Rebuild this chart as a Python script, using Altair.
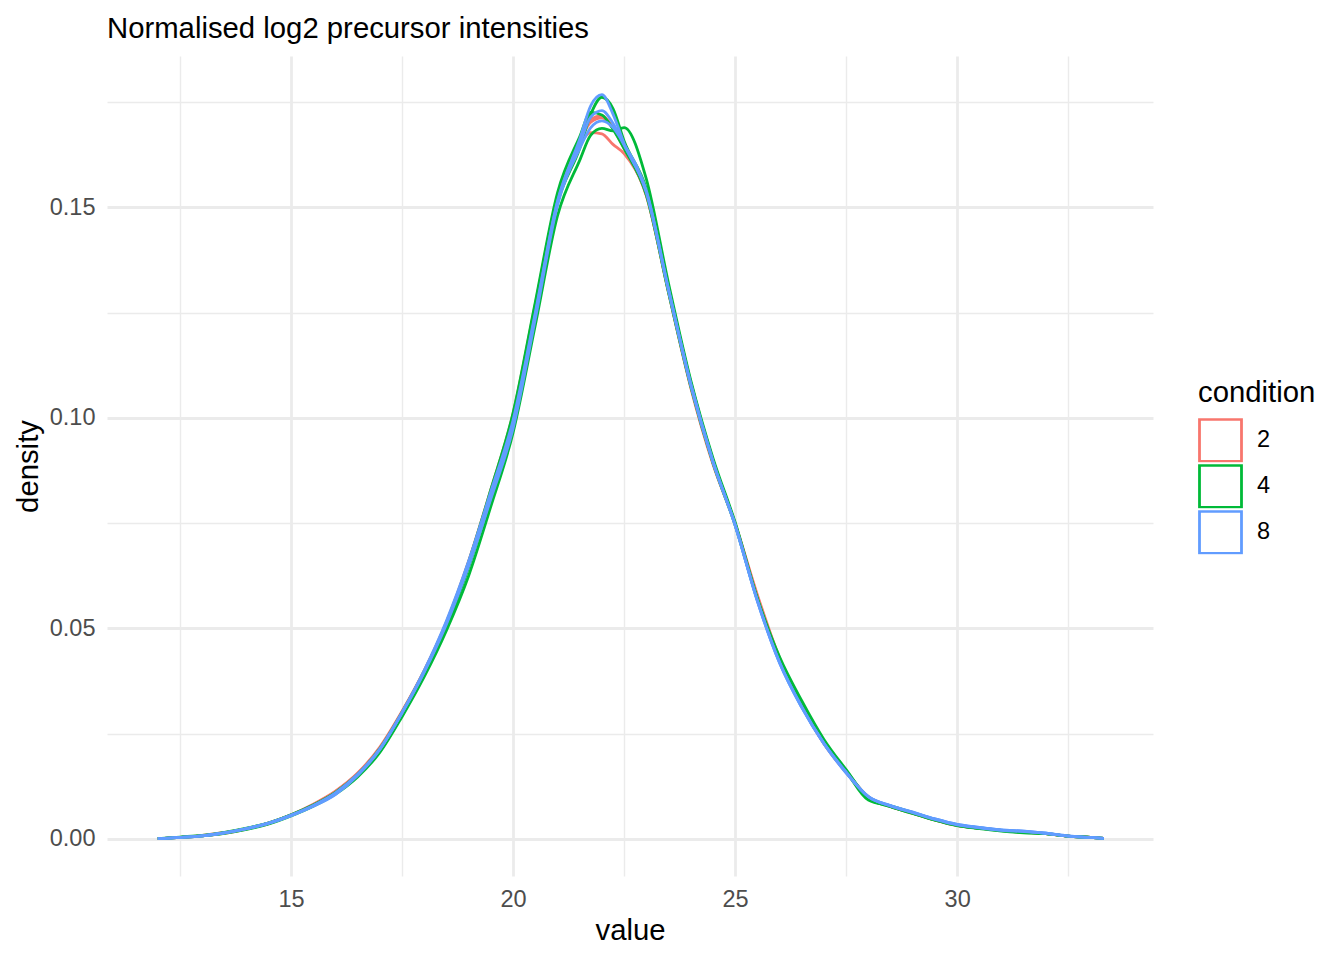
import altair as alt
import pandas as pd

# density curves (value grid shared by every sample)
value_grid = [12.0, 12.5, 13.0, 13.5, 14.0, 14.5, 15.0, 15.5, 16.0, 16.5,
              17.0, 17.5, 18.0, 18.5, 19.0, 19.5, 20.0, 20.5, 21.0, 21.5,
              21.75, 22.0, 22.25, 22.5, 23.0, 23.5, 24.0, 24.5, 25.0, 25.5,
              26.0, 26.5, 27.0, 27.5, 28.0, 28.5, 29.0, 29.5, 30.0, 30.5,
              31.0, 31.5, 32.0, 32.5, 33.0, 33.3]

cond2_a = [0.0000, 0.0003, 0.0008, 0.0015, 0.0024, 0.0038, 0.0057, 0.0082, 0.0113, 0.0156,
           0.0218, 0.0303, 0.0400, 0.0515, 0.0660, 0.0830, 0.1010, 0.1270, 0.1525, 0.1655,
           0.1703, 0.1713, 0.1688, 0.1640, 0.1530, 0.1300, 0.1078, 0.0898, 0.0750, 0.0580,
           0.0430, 0.0318, 0.0228, 0.0158, 0.0098, 0.0076, 0.0060, 0.0044, 0.0031, 0.0025,
           0.0020, 0.0016, 0.0012, 0.0006, 0.0003, 0.0001]
cond2_b = [0.0000, 0.0003, 0.0007, 0.0013, 0.0023, 0.0036, 0.0055, 0.0080, 0.0112, 0.0155,
           0.0215, 0.0300, 0.0398, 0.0512, 0.0655, 0.0825, 0.1005, 0.1262, 0.1520, 0.1650,
           0.1678, 0.1675, 0.1650, 0.1628, 0.1528, 0.1298, 0.1072, 0.0890, 0.0748, 0.0576,
           0.0428, 0.0316, 0.0226, 0.0157, 0.0099, 0.0077, 0.0061, 0.0045, 0.0032, 0.0025,
           0.0019, 0.0015, 0.0012, 0.0006, 0.0003, 0.0001]
cond2_c = [0.0000, 0.0003, 0.0007, 0.0014, 0.0024, 0.0037, 0.0056, 0.0081, 0.0111, 0.0154,
           0.0214, 0.0301, 0.0397, 0.0512, 0.0654, 0.0822, 0.0998, 0.1258, 0.1520, 0.1660,
           0.1710, 0.1718, 0.1690, 0.1645, 0.1535, 0.1302, 0.1076, 0.0894, 0.0747, 0.0572,
           0.0425, 0.0316, 0.0227, 0.0159, 0.0100, 0.0077, 0.0061, 0.0045, 0.0032, 0.0025,
           0.0020, 0.0016, 0.0012, 0.0006, 0.0003, 0.0001]

cond4_a = [0.0000, 0.0004, 0.0008, 0.0015, 0.0025, 0.0038, 0.0056, 0.0079, 0.0108, 0.0150,
           0.0208, 0.0295, 0.0392, 0.0505, 0.0645, 0.0812, 0.0985, 0.1245, 0.1510, 0.1640,
           0.1722, 0.1762, 0.1735, 0.1658, 0.1545, 0.1310, 0.1085, 0.0900, 0.0748, 0.0570,
           0.0425, 0.0322, 0.0232, 0.0162, 0.0098, 0.0077, 0.0061, 0.0045, 0.0032, 0.0025,
           0.0019, 0.0015, 0.0012, 0.0006, 0.0003, 0.0001]
cond4_b = [0.0000, 0.0003, 0.0007, 0.0014, 0.0024, 0.0037, 0.0057, 0.0080, 0.0110, 0.0153,
           0.0214, 0.0300, 0.0398, 0.0514, 0.0658, 0.0830, 0.1012, 0.1275, 0.1535, 0.1668,
           0.1726, 0.1720, 0.1686, 0.1640, 0.1530, 0.1298, 0.1075, 0.0893, 0.0745, 0.0568,
           0.0422, 0.0318, 0.0230, 0.0160, 0.0092, 0.0078, 0.0062, 0.0046, 0.0033, 0.0026,
           0.0020, 0.0016, 0.0012, 0.0006, 0.0003, 0.0001]
cond4_c = [0.0000, 0.0003, 0.0007, 0.0013, 0.0022, 0.0035, 0.0054, 0.0077, 0.0106, 0.0147,
           0.0205, 0.0290, 0.0385, 0.0495, 0.0625, 0.0790, 0.0965, 0.1220, 0.1480, 0.1612,
           0.1672, 0.1688, 0.1682, 0.1690, 0.1568, 0.1320, 0.1090, 0.0905, 0.0752, 0.0572,
           0.0432, 0.0328, 0.0236, 0.0164, 0.0096, 0.0076, 0.0060, 0.0044, 0.0031, 0.0024,
           0.0018, 0.0014, 0.0012, 0.0006, 0.0003, 0.0001]

cond8_a = [0.0000, 0.0003, 0.0007, 0.0014, 0.0024, 0.0037, 0.0055, 0.0077, 0.0105, 0.0150,
           0.0212, 0.0300, 0.0400, 0.0518, 0.0660, 0.0825, 0.0995, 0.1250, 0.1515, 0.1662,
           0.1742, 0.1768, 0.1722, 0.1652, 0.1538, 0.1305, 0.1082, 0.0898, 0.0745, 0.0565,
           0.0418, 0.0312, 0.0226, 0.0156, 0.0100, 0.0078, 0.0063, 0.0047, 0.0034, 0.0027,
           0.0021, 0.0018, 0.0013, 0.0006, 0.0003, 0.0001]
cond8_b = [0.0000, 0.0003, 0.0007, 0.0014, 0.0024, 0.0037, 0.0055, 0.0078, 0.0107, 0.0152,
           0.0213, 0.0299, 0.0396, 0.0510, 0.0648, 0.0808, 0.0975, 0.1235, 0.1505, 0.1640,
           0.1690, 0.1706, 0.1690, 0.1650, 0.1540, 0.1306, 0.1080, 0.0896, 0.0746, 0.0566,
           0.0418, 0.0312, 0.0226, 0.0158, 0.0100, 0.0079, 0.0063, 0.0047, 0.0034, 0.0027,
           0.0021, 0.0018, 0.0013, 0.0007, 0.0003, 0.0001]
cond8_c = [0.0000, 0.0003, 0.0007, 0.0014, 0.0024, 0.0037, 0.0056, 0.0079, 0.0109, 0.0153,
           0.0213, 0.0299, 0.0397, 0.0513, 0.0652, 0.0815, 0.0985, 0.1245, 0.1512, 0.1650,
           0.1715, 0.1730, 0.1700, 0.1648, 0.1536, 0.1303, 0.1078, 0.0895, 0.0746, 0.0567,
           0.0420, 0.0314, 0.0227, 0.0158, 0.0100, 0.0078, 0.0062, 0.0046, 0.0033, 0.0026,
           0.0020, 0.0017, 0.0013, 0.0006, 0.0003, 0.0001]

samples = [
    ("2_a", "2", cond2_a), ("2_b", "2", cond2_b), ("2_c", "2", cond2_c),
    ("4_a", "4", cond4_a), ("4_b", "4", cond4_b), ("4_c", "4", cond4_c),
    ("8_a", "8", cond8_a), ("8_b", "8", cond8_b), ("8_c", "8", cond8_c),
]

conditions = ["2", "4", "8"]
cond_colors = ["#F8766D", "#00BA38", "#619CFF"]

x_ticks = [12.5, 15, 17.5, 20, 22.5, 25, 27.5, 30, 32.5]
y_ticks = [0, 0.025, 0.05, 0.075, 0.1, 0.125, 0.15, 0.175]

rows = []
for name, cond, dens in samples:
    for v, d in zip(value_grid, dens):
        rows.append({"sample": name, "condition": cond, "value": v, "density": d})
df = pd.DataFrame(rows)

FONT = "Liberation Sans"

# major grid lines thick, minor ones thin and unlabelled (ggplot theme_minimal look)
x_axis = alt.Axis(
    values=x_ticks,
    labelExpr="datum.value % 5 == 0 ? datum.label : ''",
    gridWidth={"condition": {"test": "datum.value % 5 == 0", "value": 2.8}, "value": 1.4},
    labelPadding=11, titlePadding=6,
)
y_axis = alt.Axis(
    values=y_ticks,
    labelExpr="round(datum.value * 1000) % 50 == 0 ? format(datum.value, '.2f') : ''",
    gridWidth={"condition": {"test": "round(datum.value * 1000) % 50 == 0", "value": 2.8}, "value": 1.4},
    labelPadding=12, titlePadding=6,
)

chart = alt.Chart(df).mark_line(strokeWidth=2.8, interpolate="monotone").encode(
    x=alt.X("value:Q", title="value", axis=x_axis,
            scale=alt.Scale(domain=[10.856, 34.41], nice=False, zero=False)),
    y=alt.Y("density:Q", title="density", axis=y_axis,
            scale=alt.Scale(domain=[-0.00886, 0.186], nice=False, zero=False)),
    color=alt.Color("condition:N", title="condition",
                    scale=alt.Scale(domain=conditions, range=cond_colors),
                    legend=alt.Legend(orient="none", legendX=1091, legendY=323,
                                      symbolType="square", symbolSize=1764,
                                      symbolStrokeWidth=2.8, symbolFillColor="white",
                                      clipHeight=44, rowPadding=2, labelOffset=14,
                                      padding=0, titlePadding=10)),
    detail="sample:N",
).properties(
    width=1046,
    height=820,
    title=alt.TitleParams("Normalised log2 precursor intensities", anchor="start",
                          frame="group", offset=12, font=FONT, fontSize=29.3,
                          fontWeight="normal", color="black"),
    autosize=alt.AutoSizeParams(type="none"),
    padding={"left": 99, "top": 48, "right": 183, "bottom": 76},
).configure_view(
    stroke=None
).configure_axis(
    domain=False, ticks=False, gridColor="#EBEBEB",
    labelFont=FONT, labelFontSize=23.5, labelColor="#4D4D4D",
    titleFont=FONT, titleFontSize=29.3, titleFontWeight="normal", titleColor="black",
).configure_legend(
    titleFont=FONT, titleFontSize=29.3, titleFontWeight="normal", titleColor="black",
    labelFont=FONT, labelFontSize=23.5, labelColor="black",
)

chart.save("out.html", embed_options={"renderer": "svg", "actions": False})
